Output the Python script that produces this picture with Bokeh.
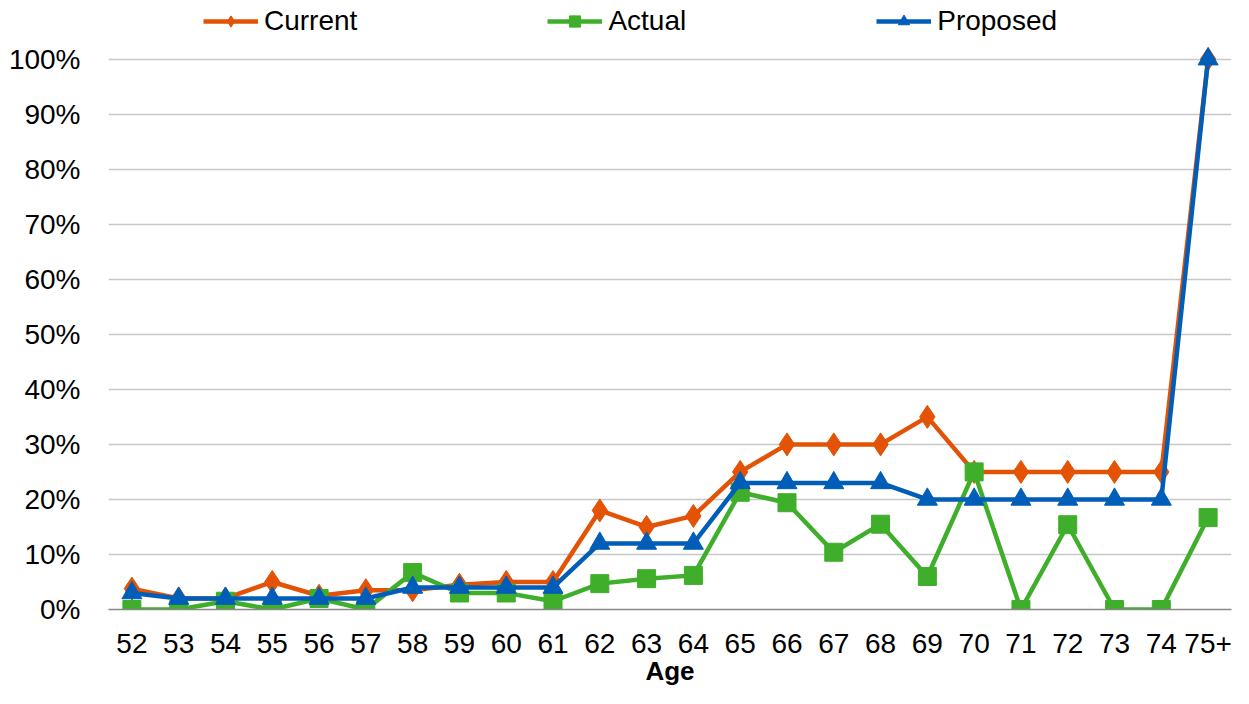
from bokeh.plotting import figure
from bokeh.models import FactorRange, Range1d, Legend, LegendItem, CustomJSTickFormatter, FixedTicker
from bokeh.embed import file_html
from bokeh.resources import INLINE

ages = ["52", "53", "54", "55", "56", "57", "58", "59", "60", "61", "62", "63",
        "64", "65", "66", "67", "68", "69", "70", "71", "72", "73", "74", "75+"]
current = [3.8, 2.0, 2.0, 5.0, 2.5, 3.5, 3.5, 4.5, 5.0, 5.0, 18.0, 15.0,
           17.0, 25.0, 30.0, 30.0, 30.0, 35.0, 25.0, 25.0, 25.0, 25.0, 25.0, 100.0]
actual = [0.0, 0.0, 1.5, 0.0, 2.0, 0.0, 6.7, 3.0, 3.0, 1.5, 4.7, 5.6,
          6.2, 21.3, 19.4, 10.4, 15.5, 6.0, 25.0, 0.0, 15.4, 0.0, 0.0, 16.7]
proposed = [3.0, 2.0, 2.0, 2.0, 2.0, 2.0, 4.0, 4.0, 4.0, 4.0, 12.0, 12.0,
            12.0, 23.0, 23.0, 23.0, 23.0, 20.0, 20.0, 20.0, 20.0, 20.0, 20.0, 100.0]
y_ticks = [0, 10, 20, 30, 40, 50, 60, 70, 80, 90, 100]

FONT = "Liberation Sans"
C_CUR = "#E35205"
C_ACT = "#3FAE2A"
C_PRO = "#005EB8"

# frame spans the full top of the figure so the legend sits inside it;
# 100% gridline lands ~59px below the top
p = figure(width=1233, height=688, x_range=FactorRange(*ages, range_padding=0),
           y_range=Range1d(0, 110.65), output_backend="svg", toolbar_location=None,
           min_border_left=108, min_border_right=2, min_border_top=0, min_border_bottom=74)
p.outline_line_color = None
p.background_fill_color = "white"

r_cur_l = p.line(ages, current, line_color=C_CUR, line_width=4.5)
r_cur_m = p.scatter(ages, current, marker="diamond", size=23, color=C_CUR)
r_act_l = p.line(ages, actual, line_color=C_ACT, line_width=4.5)
r_act_m = p.scatter(ages, actual, marker="square", size=18, color=C_ACT)
r_pro_l = p.line(ages, proposed, line_color=C_PRO, line_width=4.5)
r_pro_m = p.scatter(ages, proposed, marker="triangle", size=20, color=C_PRO)

p.yaxis.ticker = FixedTicker(ticks=y_ticks)
p.yaxis.formatter = CustomJSTickFormatter(code="return tick.toFixed(0) + '%';")
p.yaxis.axis_line_color = None
p.yaxis.major_tick_line_color = None
p.yaxis.minor_tick_line_color = None
p.yaxis.major_label_text_font = FONT
p.yaxis.major_label_text_font_size = "28px"
p.yaxis.major_label_text_color = "black"
p.yaxis.major_label_standoff = 22

p.xaxis.axis_line_color = "#888888"
p.xaxis.axis_line_width = 1.5
p.xaxis.major_tick_line_color = None
p.xaxis.minor_tick_line_color = None
p.xaxis.major_label_text_font = FONT
p.xaxis.major_label_text_font_size = "28px"
p.xaxis.major_label_text_color = "black"
p.xaxis.major_label_standoff = 18
p.xaxis.axis_label = "Age"
p.xaxis.axis_label_text_font = FONT
p.xaxis.axis_label_text_font_style = "bold"
p.xaxis.axis_label_text_font_size = "26px"
p.xaxis.axis_label_text_color = "black"
p.xaxis.axis_label_standoff = 0

p.xgrid.grid_line_color = None
p.ygrid.grid_line_color = "#C8C8C8"
p.ygrid.grid_line_width = 1.5

legend = Legend(items=[
    LegendItem(label="Current", renderers=[r_cur_l, r_cur_m]),
    LegendItem(label="Actual", renderers=[r_act_l, r_act_m]),
    LegendItem(label="Proposed", renderers=[r_pro_l, r_pro_m]),
], orientation="horizontal", location=(95, 572), spacing=190,
    label_text_font=FONT, label_text_font_size="28px", label_text_color="black",
    glyph_width=55, glyph_height=28, label_standoff=6, padding=0, margin=0,
    border_line_color=None, background_fill_alpha=0)
p.add_layout(legend, "center")

open("out.html", "w").write(file_html(p, INLINE))
